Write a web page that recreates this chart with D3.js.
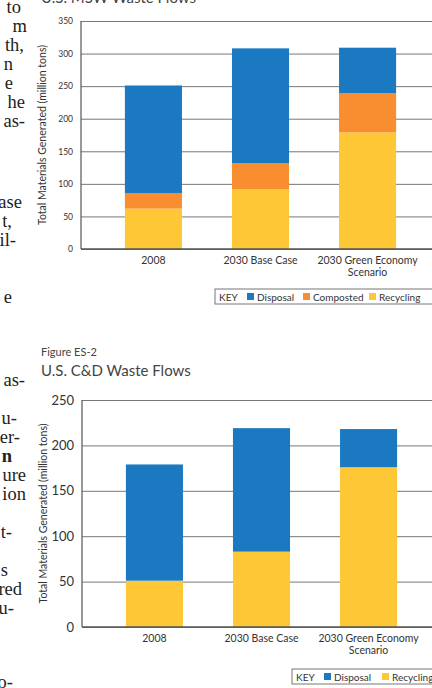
<!DOCTYPE html>
<html>
<head>
<meta charset="utf-8">
<script src="https://cdn.jsdelivr.net/npm/d3@7"></script>
<style>
  body { margin: 0; background: #fff; }
  svg { display: block; }
</style>
</head>
<body>
<div id="page"></div>
<script>
// categories on the x axis (second element = wrapped line)
var categories = ["2008", "2030 Base Case", "2030 Green Economy Scenario"];
var categoryLines = [["2008"], ["2030 Base Case"], ["2030 Green Economy", "Scenario"]];

// Figure ES-1, MSW (million tons)
var mswRecycling = [62, 92, 179];
var mswComposted = [24, 40, 60];
var mswDisposal = [165, 176, 70];
var mswTicks = [0, 50, 100, 150, 200, 250, 300, 350];

// Figure ES-2, C&D (million tons)
var cdRecycling = [51, 83, 176];
var cdDisposal = [128, 136, 42];
var cdTicks = [0, 50, 100, 150, 200, 250];

// body text cut off on the left of the page
var sideText = [
    { t: "to", y: 13, x: 21 }, { t: "m", y: 32, x: 27 }, { t: "th,", y: 51, x: 24 },
    { t: "n", y: 70, x: 13 }, { t: "e", y: 89, x: 13 }, { t: "he", y: 108, x: 25 },
    { t: "as-", y: 127, x: 25 }, { t: "Case", y: 208, x: 22 }, { t: "t,", y: 227, x: 12 },
    { t: "il-", y: 246, x: 16 }, { t: "e", y: 303, x: 12 }, { t: "as-", y: 386, x: 25 },
    { t: "u-", y: 424, x: 17 }, { t: "er-", y: 443, x: 20 }, { t: "n", y: 462, x: 12, bold: true },
    { t: "ure", y: 481, x: 26 }, { t: "ion", y: 500, x: 26 }, { t: "t-", y: 538, x: 12 },
    { t: "s", y: 576, x: 8 }, { t: "red", y: 595, x: 22 }, { t: "u-", y: 614, x: 14 },
    { t: "o-", y: 688, x: 13 }
];

var colors = { Disposal: "#1b79c1", Composted: "#f88e30", Recycling: "#fdc735" };

var svg = d3.select("#page")
    .append("svg")
    .attr("width", 432)
    .attr("height", 688)
    .style("font-family", "Lato, 'Open Sans', sans-serif");

svg.selectAll(".side")
    .data(sideText)
    .enter()
    .append("text")
    .attr("x", function (d) { return d.x; })
    .attr("y", function (d) { return d.y; })
    .attr("text-anchor", "end")
    .style("font-family", "'Liberation Serif', 'DejaVu Serif', serif")
    .style("font-size", "18.5px")
    .style("font-weight", function (d) { return d.bold ? "bold" : "normal"; })
    .attr("fill", "#222")
    .text(function (d) { return d.t; });

// title of figure ES-1, mostly cut off at the top
svg.append("text")
    .attr("x", 41).attr("y", 3)
    .style("font-size", "15px")
    .attr("fill", "#444")
    .text("U.S. MSW Waste Flows");

svg.append("text")
    .attr("x", 41).attr("y", 356)
    .style("font-size", "11px")
    .attr("fill", "#444")
    .text("Figure ES-2");

svg.append("text")
    .attr("x", 41).attr("y", 376)
    .style("font-size", "15px")
    .attr("fill", "#444")
    .text("U.S. C&D Waste Flows");

function drawChart(opts) {
    var keys = opts.keys;
    var rows = categories.map(function (c, i) {
        var r = { category: c };
        keys.forEach(function (k) { r[k] = opts.values[k][i]; });
        return r;
    });

    var g = svg.append("g");

    var x = d3.scaleBand()
        .domain(categories)
        .range([opts.left, opts.right])
        .paddingInner(0.467)
        .paddingOuter(0.41);

    var y = d3.scaleLinear()
        .domain([0, d3.max(opts.ticks)])
        .range([opts.bottom, opts.top]);

    // gridlines + tick labels
    var yAxis = g.append("g")
        .attr("transform", "translate(" + opts.left + ",0)")
        .call(d3.axisLeft(y).tickValues(opts.ticks).tickSize(-(opts.right - opts.left)).tickPadding(8));
    yAxis.select(".domain").remove();
    yAxis.selectAll(".tick line").attr("stroke", "#777").attr("stroke-width", 1);
    yAxis.selectAll(".tick text")
        .style("font-family", "Lato, 'Open Sans', sans-serif")
        .style("font-size", opts.tickSize)
        .attr("fill", "#333");

    // stacked bars
    var stacked = d3.stack().keys(keys)(rows);
    g.append("g")
        .selectAll("g")
        .data(stacked)
        .enter()
        .append("g")
        .attr("fill", function (d) { return colors[d.key]; })
        .selectAll("rect")
        .data(function (d) { return d; })
        .enter()
        .append("rect")
        .attr("x", function (d) { return x(d.data.category); })
        .attr("y", function (d) { return y(d[1]); })
        .attr("width", x.bandwidth())
        .attr("height", function (d) { return y(d[0]) - y(d[1]); });

    // left and bottom axis lines
    g.append("line")
        .attr("x1", opts.left).attr("x2", opts.left)
        .attr("y1", opts.top).attr("y2", opts.bottom)
        .attr("stroke", "#555").attr("stroke-width", 1.2);
    g.append("line")
        .attr("x1", opts.left).attr("x2", opts.right)
        .attr("y1", opts.bottom).attr("y2", opts.bottom)
        .attr("stroke", "#555").attr("stroke-width", 1.5);

    // x labels
    g.selectAll(".xlab")
        .data(categories)
        .enter()
        .append("text")
        .attr("text-anchor", "middle")
        .attr("transform", function (d) { return "translate(" + (x(d) + x.bandwidth() / 2) + "," + (opts.bottom + 15) + ")"; })
        .style("font-size", "10.5px")
        .attr("fill", "#333")
        .selectAll("tspan")
        .data(function (d, i) { return categoryLines[i]; })
        .enter()
        .append("tspan")
        .attr("x", 0)
        .attr("dy", function (d, i) { return i == 0 ? 0 : 11.5; })
        .text(function (d) { return d; });

    // y label
    g.append("text")
        .attr("transform", "translate(" + opts.yLabelX + "," + ((opts.top + opts.bottom) / 2) + ") rotate(-90)")
        .attr("text-anchor", "middle")
        .style("font-size", "10.5px")
        .attr("fill", "#333")
        .text("Total Materials Generated (million tons)");

    // legend
    var leg = g.append("g")
        .attr("transform", "translate(" + opts.legendX + "," + opts.legendY + ")");
    leg.append("rect")
        .attr("width", 300).attr("height", 15)
        .attr("fill", "#fff").attr("stroke", "#777");
    leg.append("text")
        .attr("x", 4).attr("y", 11.5)
        .style("font-size", "10px")
        .attr("fill", "#333")
        .text("KEY");
    var legendKeys = keys.slice().reverse();
    var item = leg.selectAll(".item")
        .data(legendKeys)
        .enter()
        .append("g")
        .attr("transform", function (d, i) { return "translate(" + opts.legendPos[i] + ",0)"; });
    item.append("rect")
        .attr("y", 4).attr("width", 7).attr("height", 7)
        .attr("fill", function (d) { return colors[d]; });
    item.append("text")
        .attr("x", 10).attr("y", 11.5)
        .style("font-size", "10px")
        .attr("fill", "#333")
        .text(function (d) { return d; });
}

drawChart({
    keys: ["Recycling", "Composted", "Disposal"],
    values: { Recycling: mswRecycling, Composted: mswComposted, Disposal: mswDisposal },
    ticks: mswTicks,
    left: 81, right: 440, top: 21, bottom: 249,
    tickSize: "8.5px",
    yLabelX: 46,
    legendX: 215, legendY: 289, legendPos: [32, 88, 154]
});

drawChart({
    keys: ["Recycling", "Disposal"],
    values: { Recycling: cdRecycling, Disposal: cdDisposal },
    ticks: cdTicks,
    left: 82, right: 441, top: 400, bottom: 627,
    tickSize: "13px",
    yLabelX: 47,
    legendX: 292, legendY: 669, legendPos: [32, 90]
});
</script>
</body>
</html>
